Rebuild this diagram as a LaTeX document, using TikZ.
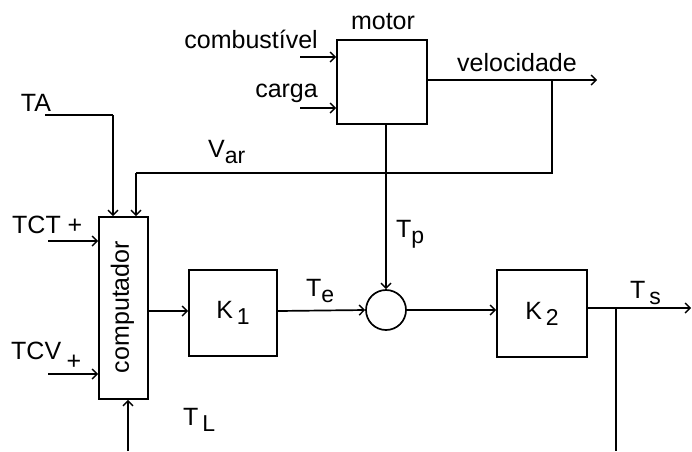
\documentclass[tikz,border=0pt]{standalone}
\usepackage{fontspec}
\setmainfont{Liberation Sans}
\usetikzlibrary{arrows.meta}
\newcommand{\lsub}[1]{\raisebox{-0.45ex}{\fontsize{23}{26}\selectfont #1}}
\begin{document}
\begin{tikzpicture}[x=1pt,y=-1pt,
  every node/.style={font=\fontsize{25}{29}\selectfont, inner sep=0pt},
  blk/.style={draw, line width=1.8pt, rectangle},
  wire/.style={line width=1.7pt},
  sig/.style={wire, -{Straight Barb[length=5pt,width=10pt,line width=1.4pt]}},
  thick wire/.style={line width=2.8pt}]
\useasboundingbox (0,0) rectangle (692,451);
% blocks
\node[blk, minimum width=90pt, minimum height=84pt] (motor) at (382,82) {};
\node[blk, minimum width=49pt, minimum height=182pt] (comp) at (123.5,308) {};
\node[rotate=90] (comptxt) at (122.5,307) {computador};
\node[blk, minimum width=88pt, minimum height=86pt] (k1) at (233,313) {K\lsub{\,1}};
\node[blk, minimum width=90pt, minimum height=87pt] (k2) at (542,313.5) {K\lsub{\,2}};
\node[draw, circle, line width=1.7pt, minimum size=40pt] (sum) at (386,310) {};
% labels
\node (lmotor) at (383,22) {motor};
\node[anchor=east] (lcomb) at (318,39) {combustível};
\node[anchor=east] (lcarga) at (318,93) {carga};
\node (lvel) at (517,63) {velocidade};
\node (lTA) at (36,103) {TA};
\node[anchor=west] (lvar) at (208,152) {V\lsub{ar}};
\node[anchor=west] (lTCT) at (12,225) {TCT +};
\node[anchor=west] (lTCV) at (11,351) {TCV};
\node (lplus) at (74,362) {+};
\node[anchor=west] (lTL) at (183,420) {T\lsub{\,L}};
\node[anchor=west] (lTe) at (306,291) {T\lsub{e}};
\node[anchor=west] (lTp) at (396,234) {T\lsub{p}};
\node[anchor=west] (lTs) at (630,293) {T\lsub{\,s}};
% coordinates
\coordinate (combin) at (300,57);
\coordinate (cargain) at (300,108);
\coordinate (velout) at (597,80);
\coordinate (velbr) at (552,80);
\coordinate (vbr2) at (552,173);
\coordinate (vbr3) at (136,173);
\coordinate (taA) at (45,115);
\coordinate (taB) at (113,115);
\coordinate (tctin) at (48,241);
\coordinate (tcvin) at (48,374);
\coordinate (tlin) at (128,451);
\coordinate (tsout) at (691,308);
\coordinate (tsbr) at (616,308);
\coordinate (tsdown) at (616,451);
% connectors
\draw[sig] (combin) -- (combin -| motor.west);
\draw[sig] (cargain) -- (cargain -| motor.west);
\draw[sig] (motor.east |- velout) -- (velout);
\draw[wire] (velbr) -- (vbr2) -- (vbr3);
\draw[sig] (vbr3) -- (vbr3 |- comp.north);
\draw[wire] (taA) -- (taB);
\draw[sig] (taB) -- (taB |- comp.north);
\draw[sig] (tctin) -- (tctin -| comp.west);
\draw[sig] (tcvin) -- (tcvin -| comp.west);
\draw[thick wire, -{Straight Barb[length=5pt,width=10pt,line width=1.4pt]}] (tlin) -- (tlin |- comp.south);
\draw[sig] (comp.east |- 0,311) -- (k1.west |- 0,311);
\draw[sig] (k1.east |- 0,311) -- (sum.west);
\draw[sig] (motor.south -| sum.north) -- (sum.north);
\draw[sig] (sum.east) -- (k2.west |- sum.east);
\draw[sig] (k2.east |- tsout) -- (tsout);
\draw[thick wire] (tsbr) -- (tsdown);
\end{tikzpicture}
\end{document}
